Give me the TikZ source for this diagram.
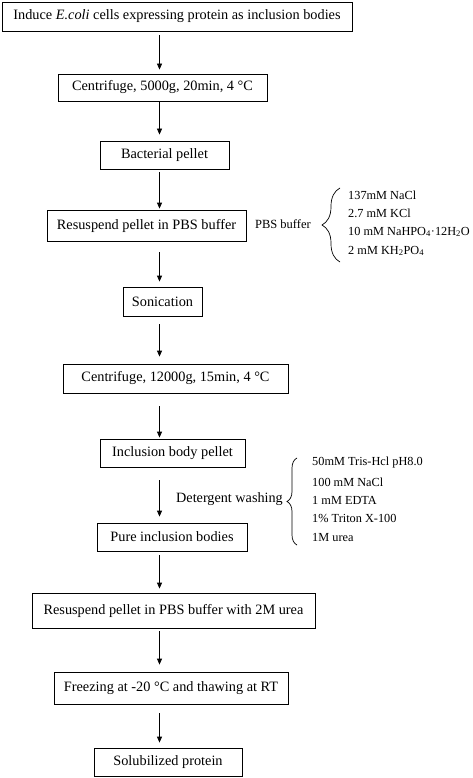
\documentclass[tikz,border=0pt]{standalone}
\usepackage{fontspec}
\setmainfont{Liberation Serif}
\usetikzlibrary{decorations.pathreplacing,arrows.meta}
\begin{document}
\begin{tikzpicture}[x=1pt,y=-1pt,
  stepbox/.style={draw,line width=0.8pt,inner sep=0pt,font=\fontsize{14.3}{16}\selectfont},
  side/.style={inner sep=0pt,anchor=west,font=\fontsize{12.3}{14}\selectfont},
  flow/.style={-{Triangle[length=6pt,width=5pt]},line width=0.8pt},
  brace/.style={decorate,decoration={brace,amplitude=#1},line width=0.7pt}]
\useasboundingbox (0,0) rectangle (472,778);
\def\ax{159.5}
\node[stepbox,minimum width=350pt,minimum height=29pt] (b1) at (177,16.5) {Induce \textit{E.coli} cells expressing protein as inclusion bodies};
\node[stepbox,minimum width=209pt,minimum height=27pt] (b2) at (162.5,87.5) {Centrifuge, 5000g, 20min, 4 °C};
\node[stepbox,minimum width=129pt,minimum height=28pt] (b3) at (164.5,155) {Bacterial pellet};
\node[stepbox,minimum width=199pt,minimum height=31pt] (b4) at (146.5,225.5) {Resuspend pellet in PBS buffer};
\node[stepbox,minimum width=79pt,minimum height=29pt] (b5) at (162.5,301.5) {Sonication};
\node[stepbox,minimum width=225pt,minimum height=29pt] (b6) at (175.5,378.5) {Centrifuge, 12000g, 15min, 4 °C};
\node[stepbox,minimum width=145pt,minimum height=28pt] (b7) at (172.5,453) {Inclusion body pellet};
\node[stepbox,minimum width=150pt,minimum height=28pt] (b8) at (172,537) {Pure inclusion bodies};
\node[stepbox,minimum width=283pt,minimum height=35pt] (b9) at (173.5,610.5) {Resuspend pellet in PBS buffer with 2M urea};
\node[stepbox,minimum width=234pt,minimum height=32pt] (b10) at (171,688) {Freezing at -20 °C and thawing at RT};
\node[stepbox,minimum width=148pt,minimum height=28pt] (b11) at (168,762) {Solubilized protein};

\draw[flow,shorten <=4pt,shorten >=4pt] (b1.south -| \ax,0) -- (b2.north -| \ax,0);
\draw[flow,shorten <=0pt,shorten >=6pt] (b2.south -| \ax,0) -- (b3.north -| \ax,0);
\draw[flow,shorten <=3pt,shorten >=1pt] (b3.south -| \ax,0) -- (b4.north -| \ax,0);
\draw[flow,shorten <=11pt,shorten >=5pt] (b4.south -| \ax,0) -- (b5.north -| \ax,0);
\draw[flow,shorten <=8pt,shorten >=7pt] (b5.south -| \ax,0) -- (b6.north -| \ax,0);
\draw[flow,shorten <=13pt,shorten >=1pt] (b6.south -| \ax,0) -- (b7.north -| \ax,0);
\draw[flow,shorten <=13pt,shorten >=6pt] (b7.south -| \ax,0) -- (b8.north -| \ax,0);
\draw[flow,shorten <=4pt,shorten >=4pt] (b8.south -| \ax,0) -- (b9.north -| \ax,0);
\draw[flow,shorten <=3pt,shorten >=7pt] (b9.south -| \ax,0) -- (b10.north -| \ax,0);
\draw[flow,shorten <=9pt,shorten >=5pt] (b10.south -| \ax,0) -- (b11.north -| \ax,0);

% PBS buffer
\node[side,anchor=east,font=\fontsize{12.5}{14}\selectfont] (pbs) at (311,224) {PBS buffer};
\coordinate (br1a) at (340,262);
\coordinate (br1b) at (340,188);
\draw[brace=18pt] (br1a) -- (br1b);
\node[side] (p1) at (348,195) {137mM NaCl};
\node[side] (p2) at (348,213) {2.7 mM KCl};
\node[side] (p3) at (348,232) {10 mM NaHPO\textsubscript{4}·12H\textsubscript{2}O};
\node[side] (p4) at (348,251) {2 mM KH\textsubscript{2}PO\textsubscript{4}};

% Detergent washing
\node[side,anchor=east,font=\fontsize{14.2}{16}\selectfont] (det) at (283,499) {Detergent washing};
\coordinate (br2a) at (297,545);
\coordinate (br2b) at (297,458);
\draw[brace=10pt] (br2a) -- (br2b);
\node[side] (d1) at (312,463) {50mM Tris-Hcl pH8.0};
\node[side] (d2) at (312,482) {100 mM NaCl};
\node[side] (d3) at (312,500) {1 mM EDTA};
\node[side] (d4) at (312,518) {1\% Triton X-100};
\node[side] (d5) at (312,537) {1M urea};
\end{tikzpicture}
\end{document}
